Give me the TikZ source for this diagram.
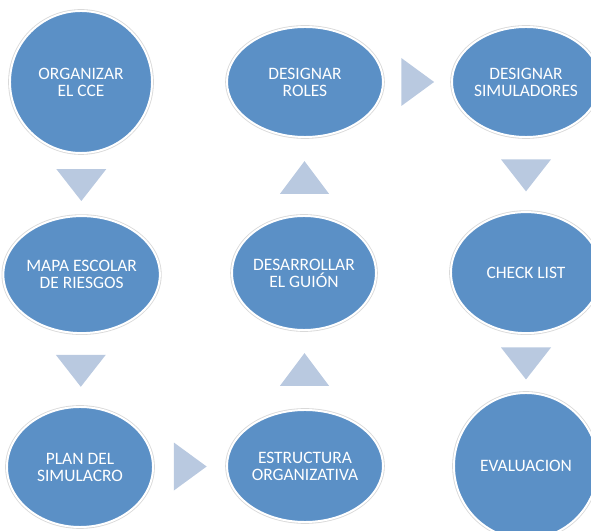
\documentclass[tikz,border=0pt]{standalone}
\usepackage{fontspec}
\setmainfont{Carlito}
\usetikzlibrary{shapes.geometric,calc}
\definecolor{pasoazul}{RGB}{91,144,198}
\definecolor{flechaazul}{RGB}{185,201,224}
\tikzset{
  paso/.style={ellipse, fill=pasoazul, draw=white, line width=1.4pt,
    preaction={draw=black!15, line width=2.6pt}, text=white, align=center,
    inner sep=0pt, font=\fontsize{12.4}{12.1}\selectfont},
  flecha/.style={fill=flechaazul}
}

\begin{document}
\begin{tikzpicture}
  \useasboundingbox (0,0) rectangle (14.775,13.275);
  \node[paso, minimum width=3.55cm, minimum height=3.55cm] (org) at (2.025,11.225) {ORGANIZAR\\EL CCE};
  \node[paso, minimum width=3.9cm, minimum height=2.75cm] (roles) at (7.625,11.225) {DESIGNAR\\ROLES};
  \node[paso, minimum width=3.7cm, minimum height=2.75cm] (simul) at (13.15,11.225) {DESIGNAR\\SIMULADORES};
  \node[paso, minimum width=3.825cm, minimum height=2.925cm] (mapa) at (2.04,6.41) {MAPA ESCOLAR\\DE RIESGOS};
  \node[paso, minimum width=3.6cm, minimum height=2.85cm] (guion) at (7.6,6.45) {DESARROLLAR\\EL GUIÓN};
  \node[paso, minimum width=3.75cm, minimum height=3.025cm] (check) at (13.15,6.46) {CHECK LIST};
  \node[paso, minimum width=3.65cm, minimum height=3cm] (plan) at (2,1.6) {PLAN DEL\\SIMULACRO};
  \node[paso, minimum width=3.9cm, minimum height=2.8cm] (estr) at (7.625,1.625) {ESTRUCTURA\\ORGANIZATIVA};
  \node[paso, minimum width=3.6cm, minimum height=3.65cm] (eval) at (13.15,1.625) {EVALUACION};
  % flechas entre pasos
  \coordinate (b1) at ($(org)!0.535!(mapa)$);
  \coordinate (b2) at ($(mapa)!0.5!(plan)$);
  \coordinate (d1) at ($(plan)!0.49!(estr)$);
  \coordinate (s1) at ($(estr)!0.5!(guion)$);
  \coordinate (s2) at ($(guion)!0.5!(roles)$);
  \coordinate (d2) at ($(roles)!0.51!(simul)$);
  \coordinate (b3) at ($(simul)!0.49!(check)$);
  \coordinate (b4) at ($(check)!0.47!(eval)$);
  \foreach \c in {b1,b2,b3,b4}
    \fill[flecha] ([shift={(-0.625,0.4)}]\c) -- ([shift={(0.625,0.4)}]\c) -- ([shift={(0,-0.4)}]\c) -- cycle;
  \foreach \c in {s1,s2}
    \fill[flecha] ([shift={(-0.615,-0.41)}]\c) -- ([shift={(0.615,-0.41)}]\c) -- ([shift={(0,0.41)}]\c) -- cycle;
  \foreach \c in {d1,d2}
    \fill[flecha] ([shift={(-0.41,0.6)}]\c) -- ([shift={(-0.41,-0.6)}]\c) -- ([shift={(0.41,0)}]\c) -- cycle;
\end{tikzpicture}
\end{document}
